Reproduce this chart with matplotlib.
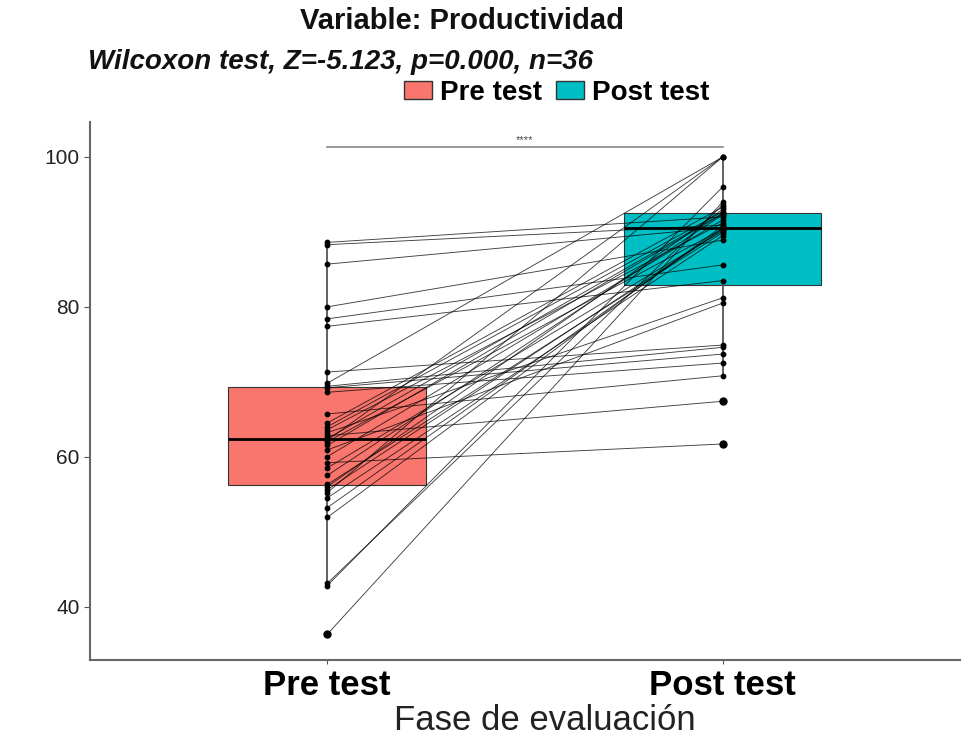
import matplotlib.pyplot as plt
import numpy as np
from matplotlib.patches import Patch

plt.rcParams['font.family'] = ['Liberation Sans', 'DejaVu Sans']

# paired scores, one entry per participant
pre_test = [88.6, 88.3, 85.7, 80.0, 78.4, 77.4, 71.3, 69.8, 69.4, 69.2, 68.6, 65.7,
            64.5, 64.0, 63.6, 63.2, 62.8, 62.4, 62.2, 62.0, 61.5, 60.9, 60.0, 59.2,
            58.5, 57.5, 56.3, 56.0, 55.6, 55.2, 54.5, 53.2, 51.9, 43.1, 42.8, 36.3]
post_test = [92.0, 90.9, 90.6, 88.9, 85.6, 83.5, 74.9, 100.0, 74.6, 73.7, 72.5, 70.8,
             93.3, 92.7, 91.2, 81.2, 67.4, 92.5, 100.0, 90.4, 92.4, 80.5, 91.6, 61.7,
             90.1, 92.3, 89.9, 93.0, 90.3, 100.0, 89.5, 90.5, 90.8, 93.6, 96.0, 94.0]
groups = ['Pre test', 'Post test']
colors = ['#F8766D', '#00BFC4']

fig = plt.figure(figsize=(9.73, 7.38), dpi=100)
ax = fig.add_axes([0.0925, 0.106, 0.894, 0.729])

bp = ax.boxplot([pre_test, post_test], positions=[1, 2], widths=0.5, patch_artist=True,
                showcaps=False, whis=1.5,
                medianprops=dict(color='black', lw=2),
                boxprops=dict(edgecolor='#333333', lw=0.8),
                whiskerprops=dict(color='#555555', lw=1.3),
                flierprops=dict(marker='o', markerfacecolor='black', markeredgecolor='black',
                                markersize=5))
for patch, c in zip(bp['boxes'], colors):
    patch.set_facecolor(c)

for a, b in zip(pre_test, post_test):
    ax.plot([1, 2], [a, b], color='black', lw=0.65, alpha=0.75, zorder=3)
ax.scatter(np.ones(len(pre_test)), pre_test, s=10, color='black', zorder=4)
ax.scatter(np.full(len(post_test), 2), post_test, s=10, color='black', zorder=4)

# significance bracket
ax.plot([1, 2], [101.3, 101.3], color='#888888', lw=1.2)
ax.text(1.5, 101.6, '****', ha='center', va='bottom', fontsize=8, color='#444444')

ax.set_xlim(0.4, 2.6)
ax.set_ylim(32.9, 104.7)
ax.set_xticks([1, 2])
ax.set_xticklabels(groups, fontsize=25, fontweight='bold')
ax.set_yticks([40, 60, 80, 100])
ax.tick_params(axis='y', labelsize=15, labelcolor='#222222', color='#555555', length=4)
ax.tick_params(axis='x', color='#555555', length=3, pad=4)
for s in ['top', 'right']:
    ax.spines[s].set_visible(False)
for s in ['left', 'bottom']:
    ax.spines[s].set_color('#666666')
    ax.spines[s].set_linewidth(1.5)

fig.text(545 / 973, 1 - 721 / 738, 'Fase de evaluación', ha='center', va='center',
         fontsize=25, color='#222222')
fig.text(462 / 973, 1 - 21 / 738, 'Variable: Productividad', ha='center', va='center',
         fontsize=21, fontweight='bold', color='#111111')
fig.text(88 / 973, 1 - 62 / 738, 'Wilcoxon test, Z=-5.123, p=0.000, n=36', ha='left',
         va='center', fontsize=20, fontweight='bold', fontstyle='italic', color='#111111')

handles = [Patch(facecolor=c, edgecolor='#333333', label=g) for c, g in zip(colors, groups)]
fig.legend(handles=handles, loc='center', bbox_to_anchor=(557 / 973, 1 - 93 / 738), ncol=2,
           frameon=False, prop=dict(size=20, weight='bold'), handlelength=1.0,
           handleheight=0.6, handletextpad=0.3, columnspacing=0.5)

fig.savefig('out.png', dpi=100)
